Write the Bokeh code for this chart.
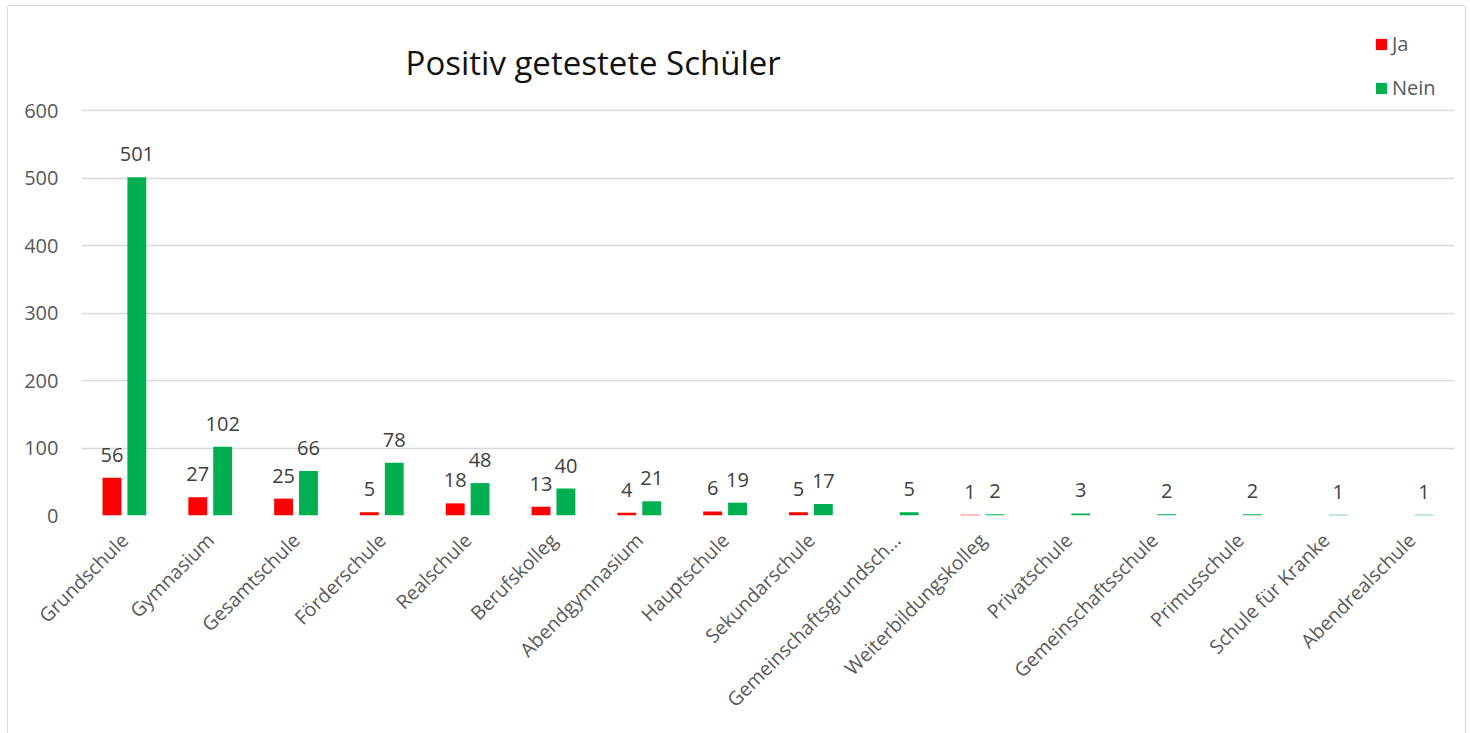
import math
from bokeh.plotting import figure
from bokeh.models import (ColumnDataSource, FactorRange, Range1d, FixedTicker, Legend,
                          LegendItem, Label)
from bokeh.transform import dodge
from bokeh.core.properties import value
from bokeh.embed import file_html
from bokeh.resources import INLINE

categories = ["Grundschule", "Gymnasium", "Gesamtschule", "Förderschule", "Realschule",
              "Berufskolleg", "Abendgymnasium", "Hauptschule", "Sekundarschule",
              "Gemeinschaftsgrundsch…", "Weiterbildungskolleg", "Privatschule",
              "Gemeinschaftsschule", "Primusschule", "Schule für Kranke", "Abendrealschule"]
ja = [56, 27, 25, 5, 18, 13, 4, 6, 5, None, 1, None, None, None, None, None]
nein = [501, 102, 66, 78, 48, 40, 21, 19, 17, 5, 2, 3, 2, 2, 1, 1]
y_ticks = [0, 100, 200, 300, 400, 500, 600]
title_text = "Positiv getestete Schüler"

FONT = "Open Sans"
AXIS_COLOR = "#595959"

# layout (pixels)
W, H = 1457, 727
BORDER_L, BORDER_R, BORDER_T = 73, 11, 22
PX_PER_UNIT = 405 / 600          # 600 units span 405 px
ZERO_FROM_TOP = 487              # px between frame top and the zero line
BORDER_B = H - BORDER_T - ZERO_FROM_TOP

ja_cats = [c for c, v in zip(categories, ja) if v is not None]
ja_vals = [v for v in ja if v is not None]
src_ja = ColumnDataSource(dict(cat=ja_cats, val=ja_vals, lbl=[str(v) for v in ja_vals]))
src_nein = ColumnDataSource(dict(cat=categories, val=nein, lbl=[str(v) for v in nein]))

p = figure(x_range=FactorRange(factors=categories),
           y_range=Range1d(0, ZERO_FROM_TOP / PX_PER_UNIT),
           width=W, height=H, output_backend="svg", toolbar_location=None, title=None,
           min_border_left=BORDER_L, min_border_right=BORDER_R, min_border_top=BORDER_T,
           min_border_bottom=BORDER_B)
p.styles = {"margin-left": "8px", "margin-top": "6px",
            "box-shadow": "-1px 0 0 0 #d9d9d9, 1px 0 0 0 #d9d9d9, 0 -1px 0 0 #d9d9d9"}

p.outline_line_color = None
p.xgrid.grid_line_color = None
p.ygrid.grid_line_color = "#d9d9d9"
p.ygrid.grid_line_width = 1.5
p.yaxis.ticker = FixedTicker(ticks=y_ticks)

for ax in (p.xaxis, p.yaxis):
    ax.axis_line_color = None
    ax.major_tick_line_color = None
    ax.minor_tick_line_color = None
    ax.major_tick_out = 0
    ax.major_tick_in = 0
    ax.minor_tick_out = 0
    ax.minor_tick_in = 0
    ax.major_label_text_font = FONT
    ax.major_label_text_color = AXIS_COLOR
p.yaxis.major_label_text_font_size = "20px"
p.yaxis.major_label_standoff = 23
p.xaxis.major_label_text_font_size = "19.5px"
p.xaxis.major_label_orientation = math.pi / 4
p.xaxis.major_label_standoff = 21

w = 0.22
off = 0.145
r_ja = p.vbar(x=dodge("cat", -off, range=p.x_range), top="val", width=w, source=src_ja,
              fill_color="#ff0000", line_color=None)
r_nein = p.vbar(x=dodge("cat", off, range=p.x_range), top="val", width=w, source=src_nein,
                fill_color="#00b050", line_color=None)

for src, o in ((src_ja, -off), (src_nein, off)):
    p.text(x=dodge("cat", o, range=p.x_range), y="val", text="lbl", source=src,
           text_font=value(FONT), text_font_size="20px", text_color="#404040",
           text_align="center", text_baseline="alphabetic", y_offset=-23)

title = Label(x=3.776, y=453 / PX_PER_UNIT, text=title_text,
              text_font=FONT, text_font_size="33px", text_color="#111111",
              text_align="left", text_baseline="alphabetic")
p.add_layout(title)

legend = Legend(items=[LegendItem(label="Ja", renderers=[r_ja]),
                       LegendItem(label="Nein", renderers=[r_nein])],
                location=(1293, 414), orientation="vertical",
                padding=0, margin=0, spacing=17, glyph_width=14, glyph_height=14,
                label_height=20, label_standoff=4,
                label_text_font=FONT, label_text_font_size="20px", label_text_color=AXIS_COLOR,
                border_line_color=None, background_fill_alpha=0)
p.add_layout(legend, "center")

open("out.html", "w").write(file_html(p, INLINE))
